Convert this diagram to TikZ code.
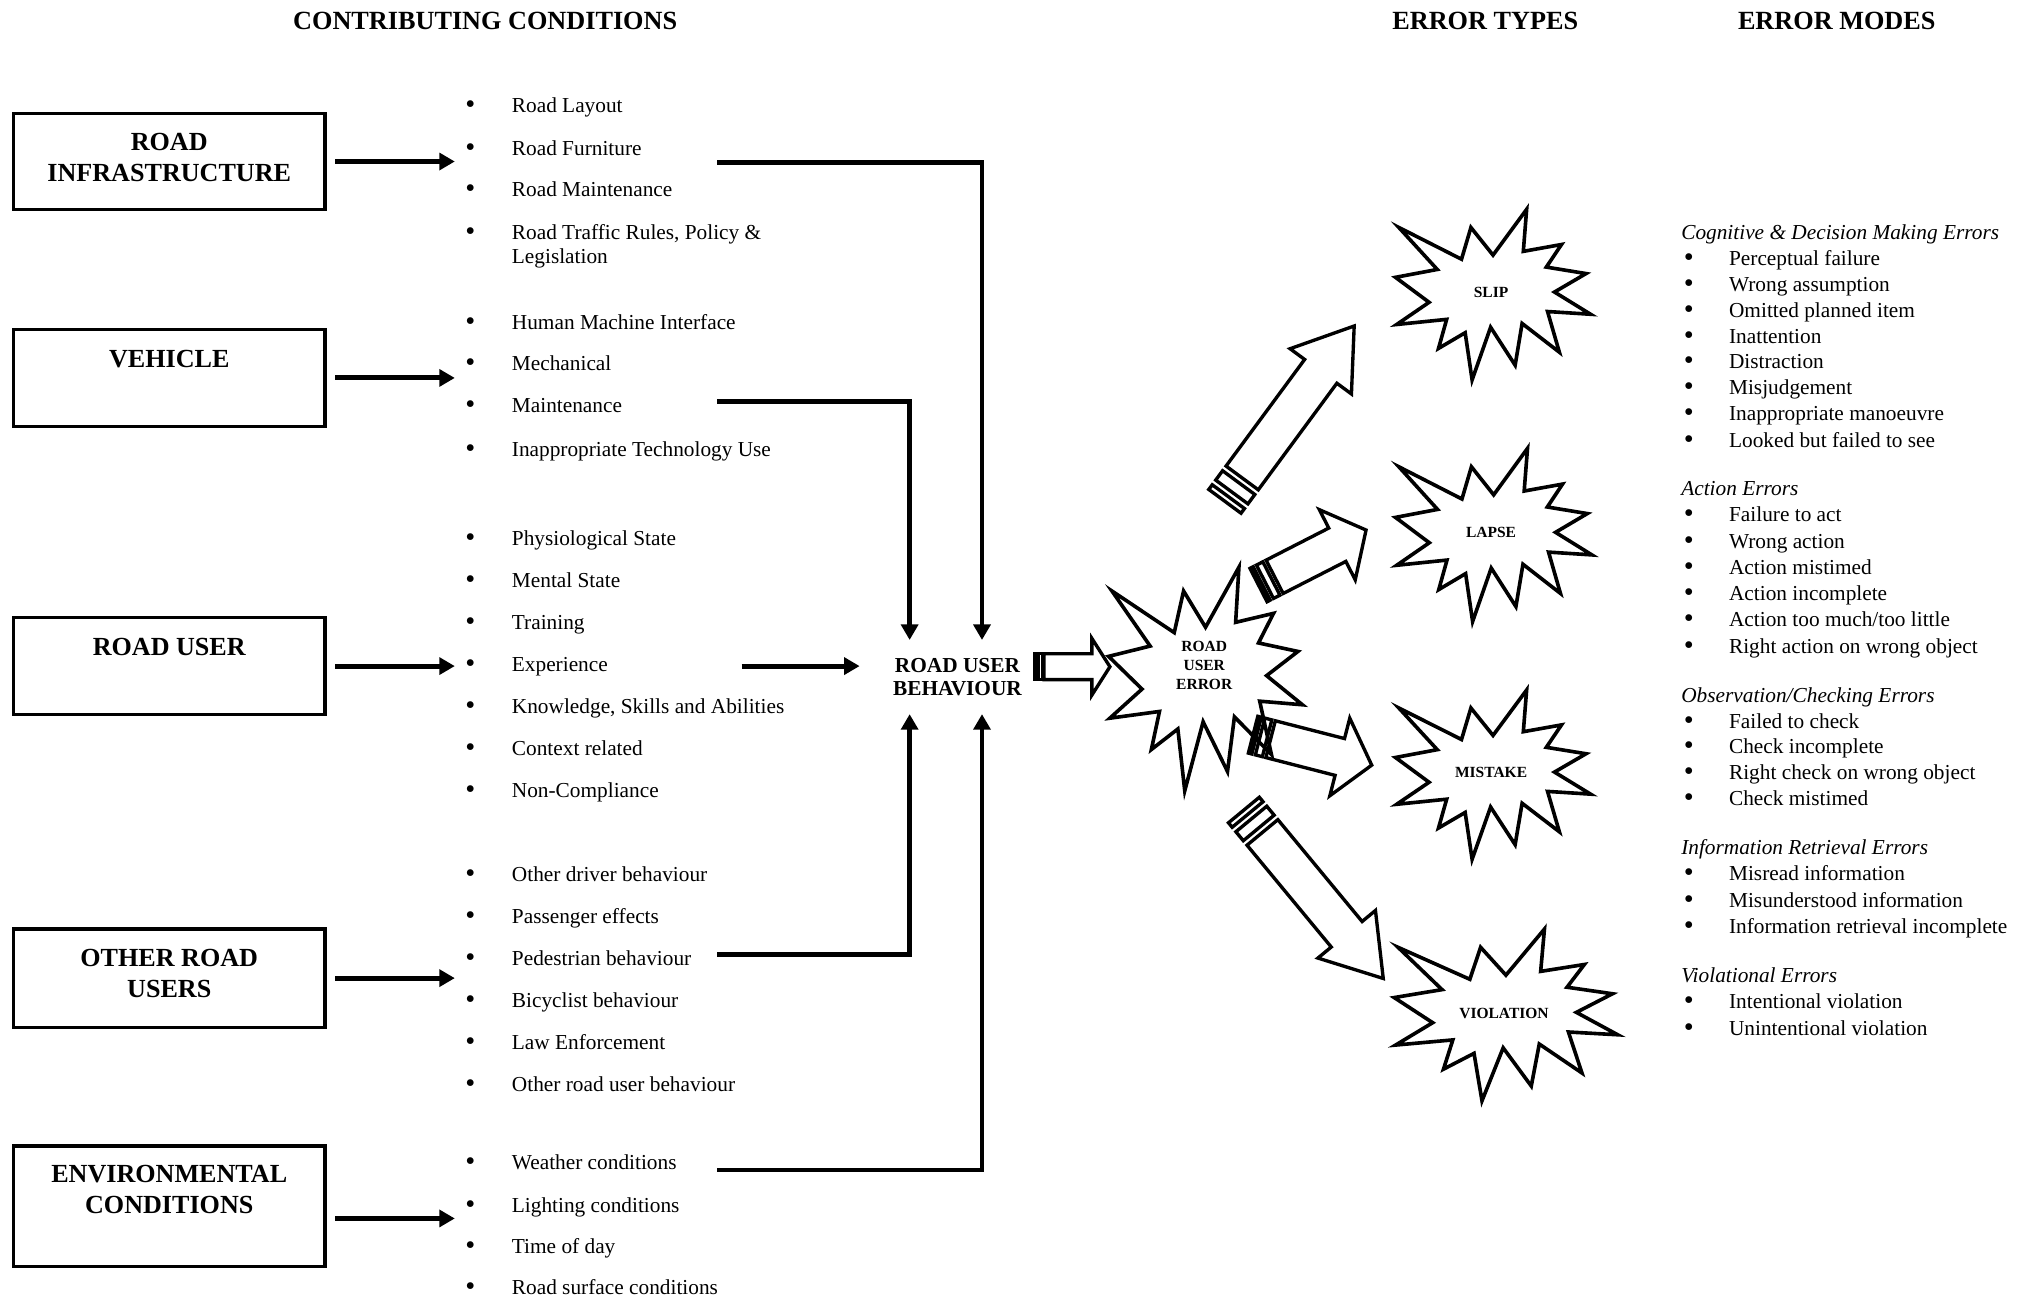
\documentclass[tikz,border=0pt]{standalone}
\usepackage{fontspec}
\setmainfont{Liberation Serif}
\usetikzlibrary{arrows.meta}

% bullet column of the factor lists and of the error-mode lists
\newcommand\bigdot{\raisebox{-0.8pt}{\fontsize{22}{22}\selectfont\textbullet}}
\newcommand\bul{\makebox[36pt][l]{\bigdot}}
\newcommand\rbul{\makebox[35pt][l]{\bigdot}}

% explosion outline fitted into the box with top-left corner (#1,#2), width #3, height #4
\newcommand\drawburst[4]{%
  \begin{scope}[shift={(#1,#2)}, xscale=#3, yscale=#4]
    \draw[burst] (0.5,0.2685) -- (0.6723,0) -- (0.6553,0.2465) -- (0.8509,0.2063)
      -- (0.7732,0.3387) -- (0.9767,0.3767) -- (0.8151,0.4850) -- (1,0.6153)
      -- (0.7795,0.5992) -- (0.8400,0.8377) -- (0.6491,0.6693) -- (0.6133,0.9138)
      -- (0.4876,0.6914) -- (0.3928,1) -- (0.3572,0.7235) -- (0.2205,0.8156)
      -- (0.2624,0.6452) -- (0.00625,0.6753) -- (0.1723,0.5451) -- (0,0.3988)
      -- (0.2142,0.3526) -- (0.0171,0.1063) -- (0.3385,0.2926) -- (0.3867,0.1063) -- cycle;
  \end{scope}}

% striped block arrow: tail centre (#1,#2), angle #3, length #4,
% shaft half width #5, head half width #6, head length #7, stripe unit #8
\newcommand\stripearrow[8]{%
  \begin{scope}[shift={(#1,#2)}, rotate=#3]
    \draw[blockarrow] (0,-#5) rectangle (#8,#5);
    \draw[blockarrow] (2*#8,-#5) rectangle (4*#8,#5);
    \draw[blockarrow] (5*#8,-#5) -- (#4-#7,-#5) -- (#4-#7,-#6) -- (#4,0)
      -- (#4-#7,#6) -- (#4-#7,#5) -- (5*#8,#5) -- cycle;
  \end{scope}}

\begin{document}
\begin{tikzpicture}[x=1pt, y=-1pt, line join=miter,
  heading/.style={font=\fontsize{20.3}{24}\selectfont\bfseries, inner sep=0pt, anchor=base},
  catbox/.style={draw, line width=2.6pt, minimum width=241pt, inner sep=0pt},
  cattext/.style={font=\fontsize{20.2}{24}\selectfont\bfseries, align=center, inner sep=0pt, anchor=north},
  item/.style={font=\fontsize{16.5}{19}\selectfont, inner sep=0pt, anchor=base west},
  mode/.style={font=\fontsize{16.5}{19}\selectfont, inner sep=0pt, anchor=base west},
  modehead/.style={mode, font=\fontsize{16.5}{19}\selectfont\itshape},
  conn/.style={line width=3.8pt},
  arr/.style={conn, -{Triangle[length=12pt, width=13pt]}},
  burst/.style={line width=2.8pt},
  bursttext/.style={font=\fontsize{12}{14.4}\selectfont\bfseries, align=center, inner sep=0pt},
  blockarrow/.style={line width=2.6pt}
]
\useasboundingbox (0,0) rectangle (1568,1004);

% column headings
\node[heading] (hcc) at (375.5,22.6) {CONTRIBUTING CONDITIONS};
\node[heading] (het) at (1149.5,22.6) {ERROR TYPES};
\node[heading] (hem) at (1421.5,22.6) {ERROR MODES};

% contributing-condition boxes
\node[catbox, minimum height=74pt] (infra) at (131,125) {};
\node[catbox, minimum height=75pt] (veh) at (131,292.5) {};
\node[catbox, minimum height=75pt] (ruser) at (131,515.5) {};
\node[catbox, minimum height=76pt] (oru) at (131,757) {};
\node[catbox, minimum height=93pt] (env) at (131,933.5) {};
\node[cattext] (tinfra) at (131,102.8) {ROAD\\INFRASTRUCTURE};
\node[cattext] (tveh) at (131,270.8) {VEHICLE};
\node[cattext] (truser) at (131,493.8) {ROAD USER};
\node[cattext] (toru) at (131,734.8) {OTHER ROAD\\USERS};
\node[cattext] (tenv) at (131,901.8) {ENVIRONMENTAL\\CONDITIONS};

% factor lists
\foreach \n/\y/\t in {a1/81/Road Layout, a2/114/Road Furniture, a3/146/Road Maintenance,
    b1/249/Human Machine Interface, b2/281/Mechanical, b3/313/Maintenance, b4/347/Inappropriate Technology Use,
    c1/416/Physiological State, c2/449/Mental State, c3/481/Training, c4/514/Experience,
    c5/546/{Knowledge, Skills and Abilities}, c6/579/Context related, c7/611/Non-Compliance,
    d1/676/Other driver behaviour, d2/709/Passenger effects, d3/741/Pedestrian behaviour,
    d4/774/Bicyclist behaviour, d5/806/Law Enforcement, d6/839/Other road user behaviour,
    e1/899/Weather conditions, e2/932/Lighting conditions, e3/964/Time of day, e4/995.5/Road surface conditions}
  \node[item] (\n) at (360,\y+6) {\bul\t};
\node[item] (a4) at (360,185) {\bul\parbox[t]{220pt}{Road Traffic Rules, Policy \&\\Legislation}};

% box-to-list arrows
\coordinate (listin) at (352,0);
\draw[arr, shorten <=6.5pt] (infra.east) -- (infra.east -| listin);
\draw[arr, shorten <=6.5pt] (veh.east) -- (veh.east -| listin);
\draw[arr, shorten <=6.5pt] (ruser.east) -- (ruser.east -| listin);
\draw[arr, shorten <=6.5pt] (oru.east) -- (oru.east -| listin);
\draw[arr, shorten <=6.5pt] ([yshift=-9.5pt]env.east) -- ([yshift=-9.5pt]env.east -| listin);

% road user behaviour
\node[font=\fontsize{16.5}{18}\selectfont\bfseries, align=center, inner sep=0pt,
      minimum width=151pt, minimum height=57pt] (rub) at (741,524) {ROAD USER\\BEHAVIOUR};

% feeds into road user behaviour
\coordinate (fa) at (555,125.5);
\coordinate (fb) at (555,311);
\coordinate (fc) at (574,515.5);
\coordinate (fd) at (555,738.5);
\coordinate (fe) at (555,905.5);
\draw[arr] (fa) -| ([xshift=19pt]rub.north);
\draw[arr] (fb) -| ([xshift=-37pt]rub.north);
\draw[arr] (fc) -- (fc -| rub.west);
\draw[arr] (fd) -| ([xshift=-37pt]rub.south);
\draw[arr] (fe) -| ([xshift=19pt]rub.south);

% road user error and error types
\drawburst{858}{439}{150}{173}
\drawburst{1080}{162}{151}{132}
\drawburst{1080}{347}{152}{134}
\drawburst{1080}{534}{151}{131}
\drawburst{1079}{719}{173}{133}
\node[bursttext] (rue) at (932,515) {ROAD\\USER\\ERROR};
\node[bursttext] (slip) at (1154,226) {SLIP};
\node[bursttext] (lapse) at (1154,412) {LAPSE};
\node[bursttext] (mistake) at (1154,598) {MISTAKE};
\node[bursttext] (violation) at (1164,784) {VIOLATION};

% block arrows
\stripearrow{801}{516}{0}{58}{10}{22}{14}{1.4}
\stripearrow{948}{388}{53.6}{168.6}{15.5}{29.5}{43.6}{4.5}
\stripearrow{974}{452.8}{27.1}{93.5}{14.5}{30.5}{25}{2.8}
\stripearrow{969.8}{568.6}{-14.4}{94.8}{14.7}{31}{25.5}{2.8}
\stripearrow{962.7}{626.9}{-50.4}{169.2}{15.5}{28.9}{44.4}{4.5}

% error modes
\foreach \n/\y/\t in {h1/180/{Cognitive \& Decision Making Errors}, h2/378/Action Errors,
    h3/538/{Observation/Checking Errors}, h4/656/Information Retrieval Errors, h5/755/Violational Errors}
  \node[modehead] (\n) at (1301,\y+5.5) {\t};
\foreach \n/\y/\t in {m1/200/Perceptual failure, m2/220/Wrong assumption, m3/240/Omitted planned item,
    m4/260/Inattention, m5/280/Distraction, m6/300/Misjudgement, m7/320/Inappropriate manoeuvre,
    m8/341/Looked but failed to see, m9/398/Failure to act, m10/419/Wrong action, m11/439/Action mistimed,
    m12/459/Action incomplete, m13/479/{Action too much/too little}, m14/500/Right action on wrong object,
    m15/558/Failed to check, m16/578/Check incomplete, m17/598/Right check on wrong object,
    m18/618/Check mistimed, m19/676/Misread information, m20/697/Misunderstood information,
    m21/717/Information retrieval incomplete, m22/775/Intentional violation, m23/796/Unintentional violation}
  \node[mode] (\n) at (1303,\y+5.5) {\rbul\t};
\end{tikzpicture}
\end{document}
